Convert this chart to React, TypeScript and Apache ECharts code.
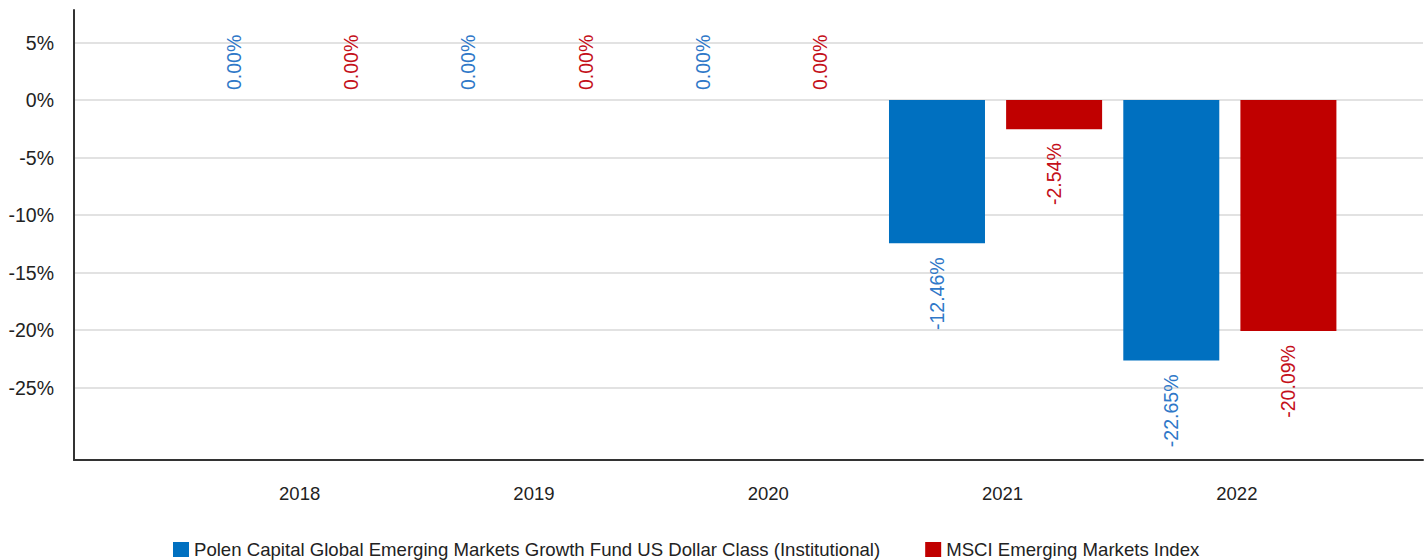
import React, { useEffect, useRef } from "react";
import * as echarts from "echarts";

const YEARS = ["2018", "2019", "2020", "2021", "2022"];
const FUND_NAME = "Polen Capital Global Emerging Markets Growth Fund US Dollar Class (Institutional)";
const INDEX_NAME = "MSCI Emerging Markets Index";
const FUND = [0, 0, 0, -12.46, -22.65];
const INDEX = [0, 0, 0, -2.54, -20.09];
const Y_TICKS = [5, 0, -5, -10, -15, -20, -25];
const Y_MIN = -31.3;
const Y_MAX = 7.83;

const FONT = "'Liberation Sans', Arial, sans-serif";
const BLUE = "#0070C0";
const RED = "#C00000";
const BLUE_TEXT = "#2f78c8";
const RED_TEXT = "#c4101a";

function items(vals: number[]) {
  return vals.map((v) => ({
    value: v,
    label: {
      position: v < 0 ? "bottom" : "top",
      align: v < 0 ? "right" : "left",
      distance: v < 0 ? 10 : 14,
    },
  }));
}

export default function App() {
  const ref = useRef<HTMLDivElement>(null);
  useEffect(() => {
    document.body.style.margin = "0";
    const chart = echarts.init(ref.current!, null, { renderer: "svg" });
    const labelBase = (color: string) => ({
      show: true,
      rotate: 90,
      verticalAlign: "middle",
      offset: [-4, 0],
      fontSize: 19.5,
      fontFamily: FONT,
      color,
      formatter: (p: any) => `${Number(p.value).toFixed(2)}%`,
    });
    chart.setOption({
      animation: false,
      textStyle: { fontFamily: FONT },
      grid: [
        { left: 74, right: 4, top: 10, bottom: 100 },
        { left: 175.5, right: 80, top: 10, bottom: 100 },
      ],
      legend: {
        left: 168,
        top: 535,
        icon: "rect",
        itemWidth: 16,
        itemHeight: 15,
        itemGap: 45,
        textStyle: { fontSize: 18.6, color: "#222", fontFamily: FONT },
        data: [FUND_NAME, INDEX_NAME],
      },
      xAxis: [
        {
          type: "value",
          gridIndex: 0,
          min: 0,
          max: 1,
          axisLine: { show: true, onZero: false, lineStyle: { color: "#333", width: 2 } },
          axisTick: { show: false },
          axisLabel: { show: false },
          splitLine: { show: false },
        },
        {
          type: "category",
          gridIndex: 1,
          data: YEARS,
          axisLine: { show: false },
          axisTick: { show: false },
          axisLabel: {
            fontSize: 18.5,
            color: "#222",
            fontFamily: FONT,
            margin: 24,
            padding: [0, 0, 0, 14],
          },
        },
      ],
      yAxis: [
        {
          type: "value",
          gridIndex: 0,
          min: Y_MIN,
          max: Y_MAX,
          axisLine: { show: true, onZero: false, lineStyle: { color: "#333", width: 2 } },
          axisTick: { show: false, customValues: Y_TICKS },
          axisLabel: {
            customValues: Y_TICKS,
            formatter: (v: number) => `${v}%`,
            fontSize: 19.5,
            color: "#222",
            fontFamily: FONT,
            margin: 20,
          },
          splitLine: { show: true, lineStyle: { color: "#d9d9d9", width: 1.5 } },
        },
        {
          type: "value",
          gridIndex: 1,
          min: Y_MIN,
          max: Y_MAX,
          show: false,
          splitLine: { show: false },
        },
      ],
      series: [
        {
          name: FUND_NAME,
          type: "bar",
          xAxisIndex: 1,
          yAxisIndex: 1,
          barWidth: 96,
          barGap: "22%",
          itemStyle: { color: BLUE },
          label: labelBase(BLUE_TEXT),
          data: items(FUND),
        },
        {
          name: INDEX_NAME,
          type: "bar",
          xAxisIndex: 1,
          yAxisIndex: 1,
          barWidth: 96,
          barGap: "22%",
          itemStyle: { color: RED },
          label: labelBase(RED_TEXT),
          data: items(INDEX),
        },
      ],
    });
    return () => chart.dispose();
  }, []);
  return <div ref={ref} style={{ width: 1427, height: 560 }} />;
}
